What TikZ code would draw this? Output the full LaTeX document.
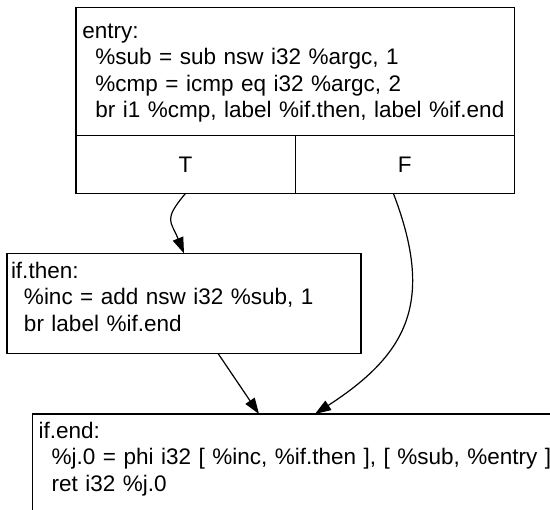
\documentclass[tikz,border=0pt]{standalone}
\usepackage{fontspec}
\setmainfont{Liberation Sans}
\usepackage{tikz}
\usetikzlibrary{arrows.meta,positioning}

\newcommand{\ind}{\hspace*{13pt}}

\begin{document}
\begin{tikzpicture}[
  x=1pt,y=1pt,
  font=\fontsize{22.5}{26.5}\selectfont,
  line width=1.2pt,
  blk/.style={draw,outer sep=0pt,inner xsep=6.4pt,inner ysep=0pt,align=left,anchor=north west},
  cell/.style={draw,outer sep=0pt,inner sep=0pt,minimum width=219.15pt,minimum height=58pt},
  arr/.style={-{Triangle[length=16pt,width=11pt]}}]
\useasboundingbox (0,0) rectangle (550,-510);

% --- entry block, with its T / F ports below ---
\node[blk,text width=425.5pt,text height=31pt,text depth=97pt] (entry) at (76,-7.3)
  {entry:\\\ind\%sub = sub nsw i32 \%argc, 1\\\ind\%cmp = icmp eq i32 \%argc, 2\\\ind br i1 \%cmp, label \%if.then, label \%if.end};
\node[cell,anchor=north west] (t) at (entry.south west) {T};
\node[cell,right=0pt of t] (f) {F};

% --- if.then ---
\node[blk,inner xsep=4pt,text width=346pt,text height=24.8pt,text depth=75.2pt] (ifthen) at (7,-253.4)
  {if.then:\\\ind\%inc = add nsw i32 \%sub, 1\\\ind br label \%if.end};

% --- if.end (runs past the edge) ---
\node[blk,text width=540pt,text height=24.5pt,text depth=75.5pt] (ifend) at (32.3,-414)
  {if.end:\\\ind\%j.0 = phi i32 [ \%inc, \%if.then ], [ \%sub, \%entry ]\\\ind ret i32 \%j.0};

% --- edges ---
\draw[arr] (t.south) to[out=230,in=112,looseness=1.5] (ifthen.north);
\draw[arr] ([xshift=-11.4pt]f.south) to[out=-69,in=33,out looseness=1.28,in looseness=1.2] ([xshift=282.7pt]ifend.north west);
\draw[arr] ([xshift=211pt]ifthen.south west) -- ([xshift=226.7pt]ifend.north west);
\end{tikzpicture}
\end{document}
